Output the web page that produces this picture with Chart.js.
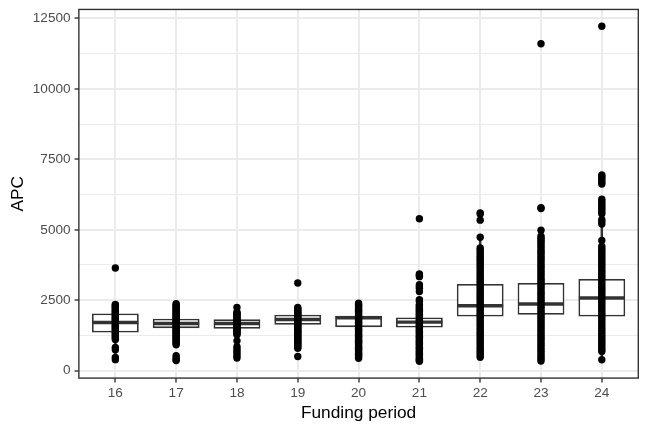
<!DOCTYPE html>
<html>
<head>
<meta charset="utf-8">
<script src="https://cdn.jsdelivr.net/npm/chart.js@4.4.0/dist/chart.umd.min.js"></script>
<style>
  html, body { margin: 0; padding: 0; background: #ffffff; }
  #wrap { width: 648px; height: 432px; }
</style>
</head>
<body>
<div id="wrap"><canvas id="apc-chart" width="648" height="432"></canvas></div>
<script>
// Funding periods on the x axis
const periods = [16, 17, 18, 19, 20, 21, 22, 23, 24];

// Box statistics (per period)
const lowerWhisker = [465, 1010, 1057, 1080, 440, 1005, 470, 340, 385];
const lowerQuartile = [1353, 1507, 1485, 1627, 1543, 1531, 1923, 1983, 1923];
const medianApc = [1709, 1674, 1674, 1816, 1877, 1720, 2303, 2362, 2575];
const upperQuartile = [2030, 1840, 1827, 1984, 1948, 1887, 3074, 3110, 3250];
const upperWhisker = [2345, 2330, 2244, 2244, 2397, 2350, 4736, 4770, 5200];

// Individual APC values per period
const apc16 = [3643, 2345, 2310, 2268, 2232, 2190, 2150, 2104, 2061, 2020, 1985, 1940, 1893, 1850, 1812, 1770,
  1728, 1690, 1652, 1608, 1571, 1530, 1488, 1450, 1402, 1361, 1318, 1275, 1233, 1190, 1148, 1100, 820, 745, 465, 390];
const apc17 = [2375, 2331, 2290, 2248, 2205, 2162, 2120, 2079, 2040, 1995, 1952, 1910, 1868, 1830, 1789, 1750,
  1711, 1670, 1628, 1590, 1552, 1510, 1469, 1430, 1391, 1350, 1305, 1262, 1220, 1178, 1140, 1095, 1050, 1010,
  965, 915, 525, 460, 390, 355];
const apc18 = [2244, 2076, 2035, 1994, 1950, 1912, 1870, 1829, 1790, 1751, 1710, 1668, 1630, 1592, 1550, 1508,
  1470, 1431, 1390, 1352, 1310, 1270, 1057, 850, 768, 690, 602, 520, 450];
const apc19 = [3110, 2244, 2201, 2160, 2118, 2080, 2041, 2000, 1962, 1920, 1879, 1840, 1801, 1760, 1722, 1680,
  1640, 1599, 1560, 1521, 1480, 1442, 1400, 1361, 1320, 1281, 1240, 1199, 1160, 1120, 1081, 1040, 1000, 958,
  920, 880, 838, 795, 500];
const apc20 = [2397, 2350, 2308, 2265, 2221, 2180, 2139, 2095, 2050, 2011, 1970, 1925, 1880, 1842, 1800, 1759,
  1715, 1671, 1630, 1589, 1545, 1500, 1461, 1420, 1379, 1335, 1290, 1250, 1209, 1170, 1125, 1080, 1041, 1000,
  960, 915, 870, 831, 790, 750, 705, 660, 620, 579, 540, 490, 440];
const apc21 = [5390, 3430, 3385, 3335, 3050, 2990, 2925, 2810, 2520, 2460, 2350, 2305, 2261, 2220, 2175, 2130,
  2090, 2045, 2000, 1960, 1915, 1871, 1830, 1785, 1740, 1700, 1655, 1610, 1570, 1525, 1480, 1440, 1395, 1350,
  1310, 1265, 1220, 1180, 1135, 1090, 1050, 1005, 960, 920, 875, 830, 790, 745, 700, 660, 615, 570, 530, 485,
  440, 400, 365, 330];
const apc22 = [5600, 5555, 5340, 4736, 4356, 4290, 4210, 4140, 4060, 3990, 3915, 3840, 3765, 3690, 3615, 3540,
  3465, 3390, 3315, 3240, 3165, 3090, 3015, 2940, 2865, 2790, 2715, 2640, 2565, 2490, 2415, 2340, 2265, 2190,
  2115, 2040, 1965, 1890, 1815, 1740, 1665, 1590, 1515, 1440, 1365, 1290, 1215, 1140, 1065, 990, 915, 840, 765,
  690, 615, 540, 470];
const apc23 = [11600, 5780, 5750, 4980, 4770, 4700, 4630, 4560, 4480, 4400, 4320, 4240, 4165, 4090, 4010, 3935,
  3860, 3780, 3705, 3630, 3550, 3475, 3400, 3320, 3245, 3170, 3090, 3015, 2940, 2860, 2785, 2710, 2630, 2555,
  2480, 2400, 2325, 2250, 2170, 2095, 2020, 1940, 1865, 1790, 1710, 1635, 1560, 1480, 1405, 1330, 1250, 1175,
  1100, 1020, 945, 870, 790, 715, 640, 560, 485, 410, 340];
const apc24 = [12225, 6945, 6890, 6830, 6760, 6690, 6620, 6080, 6010, 5930, 5860, 5790, 5720, 5640, 5570, 5360,
  5290, 5200, 4620, 4416, 4340, 4265, 4190, 4110, 4035, 3960, 3880, 3805, 3730, 3650, 3575, 3500, 3420, 3345,
  3270, 3190, 3115, 3040, 2960, 2885, 2810, 2730, 2655, 2580, 2500, 2425, 2350, 2270, 2195, 2120, 2040, 1965,
  1890, 1810, 1735, 1660, 1580, 1505, 1430, 1350, 1275, 1200, 1120, 1045, 970, 890, 815, 740, 677, 385];

const apcByPeriod = [apc16, apc17, apc18, apc19, apc20, apc21, apc22, apc23, apc24];

// Y axis: labelled ticks, grid line positions (minor lines in between) and range
const yMajorTicks = [0, 2500, 5000, 7500, 10000, 12500];
const yGridTicks = [0, 1250, 2500, 3750, 5000, 6250, 7500, 8750, 10000, 11250, 12500];
const yRange = [-265, 12820];
const xRange = [15.4, 24.6];

const gridGrey = '#EBEBEB';
const darkGrey = '#333333';
const fontFamily = '"Liberation Sans", Arial, Helvetica, sans-serif';

// Build datasets from the arrays
const pointData = [];
periods.forEach(function (p, i) {
  apcByPeriod[i].forEach(function (v) {
    pointData.push({ x: p, y: v });
  });
});
const boxData = periods.map(function (p, i) { return { x: p, y: [lowerQuartile[i], upperQuartile[i]] }; });
const whiskerData = periods.map(function (p, i) { return { x: p, y: [lowerWhisker[i], upperWhisker[i]] }; });
const medianData = periods.map(function (p, i) { return { x: p, y: medianApc[i] }; });

function isMajor(v) {
  return yMajorTicks.indexOf(v) !== -1;
}

// Draw the full panel border like theme_bw
const panelBorder = {
  id: 'panelBorder',
  afterDraw(chart) {
    const a = chart.chartArea;
    const ctx = chart.ctx;
    ctx.save();
    ctx.strokeStyle = darkGrey;
    ctx.lineWidth = 1.4;
    ctx.strokeRect(a.left, a.top, a.right - a.left, a.bottom - a.top);
    ctx.restore();
  }
};

const apcCtx = document.getElementById('apc-chart').getContext('2d');

const apcChart = new Chart(apcCtx, {
  type: 'scatter',
  data: {
    datasets: [
      {
        label: 'APC',
        type: 'scatter',
        data: pointData,
        backgroundColor: '#000000',
        borderWidth: 0,
        pointRadius: 3.7,
        pointHoverRadius: 3.7,
        order: 0
      },
      {
        label: 'median',
        type: 'scatter',
        data: medianData,
        pointStyle: 'line',
        pointRadius: 23,
        pointHoverRadius: 23,
        borderColor: darkGrey,
        borderWidth: 3.4,
        order: 1
      },
      {
        label: 'box',
        type: 'bar',
        data: boxData,
        backgroundColor: '#ffffff',
        borderColor: darkGrey,
        borderWidth: 1.8,
        borderSkipped: false,
        grouped: false,
        barPercentage: 0.77,
        categoryPercentage: 1,
        order: 2
      },
      {
        label: 'whisker',
        type: 'bar',
        data: whiskerData,
        backgroundColor: darkGrey,
        borderWidth: 0,
        grouped: false,
        barThickness: 1.8,
        order: 3
      }
    ]
  },
  options: {
    responsive: false,
    animation: false,
    layout: {
      autoPadding: false,
      padding: { left: 6, right: 9.7, top: 6.6, bottom: 6 }
    },
    plugins: {
      legend: { display: false },
      tooltip: { enabled: false }
    },
    scales: {
      x: {
        type: 'linear',
        min: xRange[0],
        max: xRange[1],
        offset: false,
        afterBuildTicks: function (scale) {
          scale.ticks = periods.map(function (p) { return { value: p }; });
        },
        border: { display: false },
        grid: {
          offset: false,
          color: gridGrey,
          lineWidth: 2,
          tickColor: darkGrey,
          tickLength: 4.3,
          tickWidth: 1.4
        },
        ticks: {
          autoSkip: false,
          maxRotation: 0,
          padding: 3,
          color: '#4D4D4D',
          font: { family: fontFamily, size: 13.6 },
          callback: function (v) { return String(v); }
        },
        title: {
          display: true,
          text: 'Funding period',
          color: '#000000',
          font: { family: fontFamily, size: 17.3, lineHeight: 1 },
          padding: { top: 0, bottom: 4 }
        }
      },
      y: {
        type: 'linear',
        min: yRange[0],
        max: yRange[1],
        afterBuildTicks: function (scale) {
          scale.ticks = yGridTicks.map(function (v) { return { value: v }; });
        },
        border: { display: false },
        grid: {
          color: gridGrey,
          lineWidth: function (c) { return isMajor(c.tick.value) ? 2 : 1; },
          tickColor: function (c) { return isMajor(c.tick.value) ? darkGrey : 'rgba(0,0,0,0)'; },
          tickLength: 4.3,
          tickWidth: 1.4
        },
        ticks: {
          autoSkip: false,
          padding: 4,
          color: '#4D4D4D',
          font: { family: fontFamily, size: 13.6, lineHeight: 0.8 },
          callback: function (v) { return isMajor(v) ? String(v) : ''; }
        },
        title: {
          display: true,
          text: 'APC',
          color: '#000000',
          font: { family: fontFamily, size: 17.3 },
          padding: { top: 2, bottom: 0 }
        }
      }
    }
  },
  plugins: [panelBorder]
});
</script>
</body>
</html>
